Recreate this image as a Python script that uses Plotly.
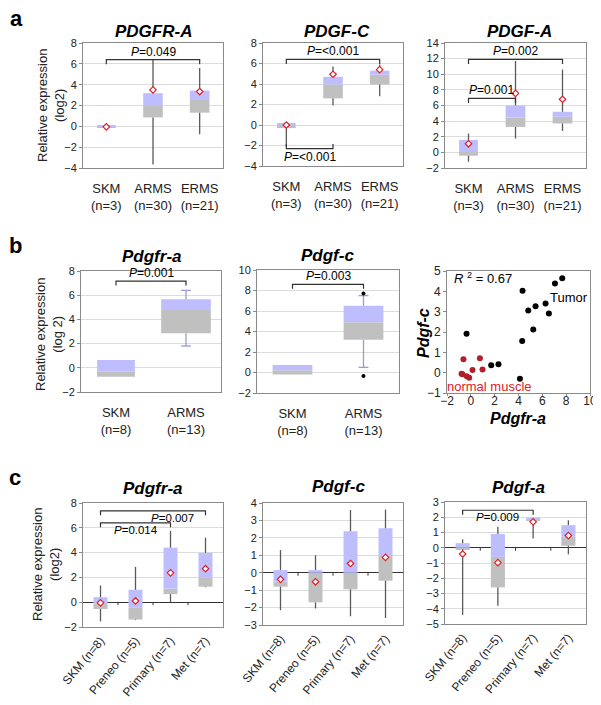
import plotly.graph_objects as go

# ---------------- data ----------------
A_CATS = ["SKM<br>(n=3)", "ARMS<br>(n=30)", "ERMS<br>(n=21)"]
B_CATS = ["SKM<br>(n=8)", "ARMS<br>(n=13)"]
C_CATS = ["SKM (n=8)", "Preneo (n=5)", "Primary (n=7)", "Met (n=7)"]

# panel a (human tumours) : quartiles, whisker ends, means
PDGFRA_A = {"q1": [-0.15, 0.86, 1.31], "med": [-0.05, 1.95, 2.53], "q3": [0.10, 3.18, 3.43],
            "lo": [-0.35, -3.67, -0.75], "hi": [0.15, 6.4, 5.6], "mean": [-0.05, 3.5, 3.34]}
PDGFC_A = {"q1": [-0.30, 2.60, 3.95], "med": [0.0, 3.95, 4.90], "q3": [0.20, 4.70, 5.30],
           "lo": [-2.1, 1.9, 2.8], "hi": [0.25, 5.7, 5.9], "mean": [0.0, 4.95, 5.4]}
PDGFA_A = {"q1": [-0.43, 3.26, 3.70], "med": [0.17, 4.46, 4.55], "q3": [1.60, 6.00, 5.20],
           "lo": [-1.2, 1.76, 2.75], "hi": [2.4, 11.7, 10.6], "mean": [1.1, 7.55, 6.8]}

# panel b (mouse tumours)
PDGFRA_B = {"q1": [-0.75, 2.85], "med": [-0.33, 4.78], "q3": [0.64, 5.66],
            "lo": [None, 1.8], "hi": [None, 6.4]}
PDGFC_B = {"q1": [-0.20, 3.20], "med": [0.23, 4.90], "q3": [0.72, 6.50],
           "lo": [None, 0.5], "hi": [None, 7.5]}
PDGFC_B_OUTLIERS = [7.7, -0.33]          # ARMS outliers

# panel b scatter: Pdgfr-a (x) vs Pdgf-c (y)
TUMOR_X = [7.67, 7.06, 4.34, 6.27, 5.43, 4.82, 6.55, 5.24, -0.36, 4.31, 1.71, 2.32, 4.12]
TUMOR_Y = [4.64, 4.39, 4.03, 3.40, 3.27, 3.06, 2.91, 2.12, 1.91, 1.56, 0.36, 0.41, -0.30]
NORMAL_X = [-0.62, 0.76, 0.14, 0.98, -0.70, -0.34, -0.14, -0.78]
NORMAL_Y = [0.66, 0.71, 0.13, 0.15, -0.08, -0.18, -0.25, -0.05]

# panel c (mouse model stages)
PDGFRA_C = {"q1": [-0.55, -1.40, 0.65, 1.25], "med": [-0.10, -0.45, 1.10, 2.00],
            "q3": [0.40, 1.00, 4.40, 3.98], "lo": [-1.55, -1.45, 0.0, 1.2],
            "hi": [1.35, 2.85, 5.75, 5.2], "mean": [-0.05, 0.10, 2.37, 2.70]}
PDGFC_C = {"q1": [-0.80, -1.70, -0.95, -0.46], "med": [-0.50, 0.0, 0.0, 1.00],
           "q3": [0.15, 0.15, 2.38, 2.55], "lo": [-2.15, -2.05, -2.5, -2.6],
           "hi": [1.3, 1.0, 3.6, 3.62], "mean": [-0.38, -0.52, 0.53, 0.88]}
PDGFA_C = {"q1": [-0.10, -2.60, 1.76, 0.13], "med": [0.0, -0.60, 1.85, 0.72],
           "q3": [0.30, 0.90, 1.98, 1.48], "lo": [-4.4, -3.8, 0.6, -0.43],
           "hi": [0.55, 1.37, 1.98, 1.8], "mean": [-0.41, -0.98, 1.70, 0.80]}

# significance brackets: (from, to, level, label, tick direction, text side, text x)
PDGFRA_A_P = [(0, 2, 6.4, "=0.049", -1, "top", 1.0)]
PDGFC_A_P = [(0, 2, 6.4, "=<0.001", -1, "top", 1.0), (0, 1, -2.3, "=<0.001", 1, "bottom", 0.5)]
PDGFA_A_P = [(0, 2, 11.9, "=0.002", -1, "top", 1.0), (0, 1, 6.9, "=0.001", -1, "top", 0.5)]
PDGFRA_B_P = [(0, 1, 7.17, "=0.001", -1, "top", 0.5)]
PDGFC_B_P = [(0, 1, 8.6, "=0.003", -1, "top", 0.5)]
PDGFRA_C_P = [(0, 3, 7.37, "=0.007", -1, "bottom", 2.05), (0, 2, 6.4, "=0.014", -1, "bottom", 1.0)]
PDGFC_C_P = []
PDGFA_C_P = [(0, 2, 2.46, "=0.009", -1, "bottom", 0.98)]

# ---------------- style ----------------
PAGE_OFF = 8                       # default body margin of the html page
W, H = 601 - PAGE_OFF, 705 - PAGE_OFF
FONT = "Liberation Sans, Arial, sans-serif"
BLUE = "rgb(190,190,255)"
GRAY = "rgb(192,192,192)"
FRAME = "#8a8a8a"
GRID = "#dcdcdc"
TXT = "#222222"


def fx(px):
    return (px - PAGE_OFF) / W


def fy(py):
    return 1 - (py - PAGE_OFF) / H


panels = [
    dict(data=PDGFRA_A, cats=A_CATS, box=(83, 223, 43, 168), yr=(-4, 8), dt=2, title="PDGFR-A",
         tt=(153, 32), bw=[0.4, 0.42, 0.42], pv=PDGFRA_A_P, wc="#595959", kind="a"),
    dict(data=PDGFC_A, cats=A_CATS, box=(263, 403, 43, 166), yr=(-4, 8), dt=2, title="PDGF-C",
         tt=(337, 32), bw=[0.4, 0.42, 0.42], pv=PDGFC_A_P, wc="#595959", kind="a"),
    dict(data=PDGFA_A, cats=A_CATS, box=(445, 586, 43, 168), yr=(-2, 14), dt=2, title="PDGF-A",
         tt=(519, 32), bw=[0.4, 0.42, 0.42], pv=PDGFA_A_P, wc="#595959", kind="a"),
    dict(data=PDGFRA_B, cats=B_CATS, box=(81, 221, 271, 392), yr=(-2, 8), dt=2, title="Pdgfr-a",
         tt=(152, 257), bw=[0.54, 0.71], pv=PDGFRA_B_P, wc="#9a9ad8", kind="b"),
    dict(data=PDGFC_B, cats=B_CATS, box=(257, 399, 270, 393), yr=(-2, 10), dt=2, title="Pdgf-c",
         tt=(327, 255), bw=[0.56, 0.56], pv=PDGFC_B_P, wc="#9a9ad8", kind="b"),
    None,  # scatter
    dict(data=PDGFRA_C, cats=C_CATS, box=(83, 223, 503, 627), yr=(-2, 8), dt=2, title="Pdgfr-a",
         tt=(153, 488), bw=[0.4] * 4, pv=PDGFRA_C_P, wc="#595959", kind="c"),
    dict(data=PDGFC_C, cats=C_CATS, box=(263, 403, 503, 625), yr=(-3, 4), dt=1, title="Pdgf-c",
         tt=(338, 486), bw=[0.4] * 4, pv=PDGFC_C_P, wc="#595959", kind="c"),
    dict(data=PDGFA_C, cats=C_CATS, box=(445, 586, 502, 624), yr=(-5, 3), dt=1, title="Pdgf-a",
         tt=(518, 487), bw=[0.4] * 4, pv=PDGFA_C_P, wc="#595959", kind="c"),
]

fig = go.Figure()
layout = dict(width=W, height=H, margin=dict(l=0, r=0, t=0, b=0, autoexpand=False),
              paper_bgcolor="white", plot_bgcolor="white", showlegend=False, barmode="overlay",
              font=dict(family=FONT, color=TXT))
annotations = []


def paper_text(px, py, text, size, color="black", angle=0):
    return dict(x=fx(px), y=fy(py), xref="paper", yref="paper", text=text, showarrow=False,
                xanchor="center", yanchor="middle", textangle=angle,
                font=dict(size=size, color=color))


for k, p in enumerate(panels, start=1):
    xa = "x" if k == 1 else f"x{k}"
    ya = "y" if k == 1 else f"y{k}"
    xkey = "xaxis" if k == 1 else f"xaxis{k}"
    ykey = "yaxis" if k == 1 else f"yaxis{k}"

    if p is None:
        # scatter panel
        x0, x1, y0, y1 = 447, 590, 271, 393
        fig.add_trace(go.Scatter(x=TUMOR_X, y=TUMOR_Y, mode="markers", xaxis=xa, yaxis=ya,
                                 marker=dict(color="black", size=6)))
        fig.add_trace(go.Scatter(x=NORMAL_X, y=NORMAL_Y, mode="markers", xaxis=xa, yaxis=ya,
                                 marker=dict(color="#b0202a", size=6)))
        layout[xkey] = dict(domain=[fx(x0), fx(x1)], anchor=ya, range=[-2, 10], dtick=2,
                            showgrid=False, zeroline=False, showline=True, mirror=True,
                            linecolor=FRAME, ticks="outside", ticklen=2, tickcolor=FRAME,
                            ticklabelstandoff=-5, tickfont=dict(size=12), automargin=False)
        layout[ykey] = dict(domain=[fy(y1), fy(y0)], anchor=xa, range=[-1, 5], dtick=1,
                            showgrid=False, zeroline=False, showline=True, mirror=True,
                            linecolor=FRAME, ticks="outside", ticklen=3, tickcolor=FRAME,
                            tickfont=dict(size=12), automargin=False)
        annotations += [
            dict(x=-1.6, y=4.66, xref=xa, yref=ya, text="<i>R</i> <sup>2</sup> = 0.67",
                 showarrow=False, xanchor="left", font=dict(size=13, color="black")),
            dict(x=8.2, y=3.68, xref=xa, yref=ya, text="Tumor", showarrow=False,
                 font=dict(size=13, color="black")),
            dict(x=1.55, y=-0.66, xref=xa, yref=ya, text="normal muscle", showarrow=False,
                 font=dict(size=13, color="#e0202a")),
            paper_text(518, 418, "<b><i>Pdgfr-a</i></b>", 16),
            paper_text(423, 333, "<b><i>Pdgf-c</i></b>", 16, angle=-90),
        ]
        continue

    d = p["data"]
    n = len(p["cats"])
    idx = list(range(n))
    x0, x1, y0, y1 = p["box"]
    ylo, yhi = p["yr"]
    upp = (yhi - ylo) / (y1 - y0)  # data units per pixel

    # whiskers (drawn first, under boxes)
    if "lo" in d:
        wx, wy = [], []
        for i in idx:
            if d["hi"][i] is not None:
                wx += [i, i, None]
                wy += [d["q3"][i], d["hi"][i], None]
            if d["lo"][i] is not None:
                wx += [i, i, None]
                wy += [d["q1"][i], d["lo"][i], None]
            if p["kind"] == "b" and d["hi"][i] is not None:
                cw = 0.07
                wx += [i - cw, i + cw, None, i - cw, i + cw, None]
                wy += [d["hi"][i], d["hi"][i], None, d["lo"][i], d["lo"][i], None]
        fig.add_trace(go.Scatter(x=wx, y=wy, mode="lines", xaxis=xa, yaxis=ya,
                                 line=dict(color=p["wc"], width=1.3), hoverinfo="skip"))

    # boxes: grey = Q1..median, blue = median..Q3
    fig.add_trace(go.Bar(x=idx, y=[m - q for m, q in zip(d["med"], d["q1"])], base=d["q1"],
                         width=p["bw"], marker=dict(color=GRAY, line=dict(width=0)),
                         xaxis=xa, yaxis=ya))
    fig.add_trace(go.Bar(x=idx, y=[q - m for q, m in zip(d["q3"], d["med"])], base=d["med"],
                         width=p["bw"], marker=dict(color=BLUE, line=dict(width=0)),
                         xaxis=xa, yaxis=ya))

    if p["kind"] == "c":
        t = 3 * upp
        tx, ty = [], []
        for b in range(1, n):
            tx += [b - 0.5, b - 0.5, None]
            ty += [0, -t, None]
        fig.add_trace(go.Scatter(x=tx, y=ty, mode="lines", xaxis=xa, yaxis=ya,
                                 line=dict(color="#333333", width=1), hoverinfo="skip"))

    if "mean" in d:
        fig.add_trace(go.Scatter(x=idx, y=d["mean"], mode="markers", xaxis=xa, yaxis=ya,
                                 marker=dict(symbol="diamond", size=5, color="white",
                                             line=dict(color="#e0202a", width=1.2))))
    if k == 5:
        fig.add_trace(go.Scatter(x=[1, 1], y=PDGFC_B_OUTLIERS, mode="markers", xaxis=xa, yaxis=ya,
                                 marker=dict(color="black", size=4)))

    # brackets
    for (i, j, lvl, lab, tdir, side, tx_) in p["pv"]:
        tk = 4.5 * upp * tdir
        fig.add_trace(go.Scatter(x=[i, i, j, j], y=[lvl + tk, lvl, lvl, lvl + tk], mode="lines",
                                 xaxis=xa, yaxis=ya, line=dict(color="#333333", width=1.2),
                                 hoverinfo="skip"))
        annotations.append(dict(x=tx_, y=lvl, xref=xa, yref=ya, text="<i>P</i>" + lab,
                                showarrow=False, xanchor="center",
                                yanchor="bottom" if side == "top" else "top",
                                yshift=-1 if side == "top" else 1,
                                font=dict(size=12 if p["kind"] != "c" else 11.5, color="black")))

    xa_dict = dict(domain=[fx(x0), fx(x1)], anchor=ya, range=[-0.5, n - 0.5],
                   tickvals=idx, ticktext=p["cats"], showgrid=False, zeroline=False,
                   showline=True, mirror=True, linecolor=FRAME, ticks="", automargin=False,
                   tickfont=dict(size=13, color=TXT))
    if p["kind"] == "c":
        xa_dict.update(tickangle=-50, tickfont=dict(size=12, color=TXT), ticklabelstandoff=1)
    else:
        xa_dict.update(ticklabelstandoff=8)
    layout[xkey] = xa_dict
    layout[ykey] = dict(domain=[fy(y1), fy(y0)], anchor=xa, range=[ylo, yhi], dtick=p["dt"],
                        showgrid=True, gridcolor=GRID, gridwidth=1, automargin=False,
                        zeroline=(p["kind"] == "c"), zerolinecolor="#333333", zerolinewidth=1,
                        showline=True, mirror=True, linecolor=FRAME, ticks="outside", ticklen=3,
                        tickcolor=FRAME, tickfont=dict(size=11, color=TXT))

    annotations.append(paper_text(p["tt"][0], p["tt"][1], f"<b><i>{p['title']}</i></b>", 17))

# y-axis titles
for (cx, cy, lab) in [(51, 106, "Relative expression<br>(log2)"),
                      (49, 335, "Relative expression<br>(log 2)"),
                      (46, 565, "Relative expression<br>(log2)")]:
    annotations.append(paper_text(cx, cy, lab, 13, color=TXT, angle=-90))

# panel letters
for (cx, cy, lab) in [(16, 18, "a"), (15, 245, "b"), (15, 477, "c")]:
    annotations.append(paper_text(cx, cy, f"<b>{lab}</b>", 22))

layout["annotations"] = annotations
fig.update_layout(**layout)
fig.write_html("out.html")
